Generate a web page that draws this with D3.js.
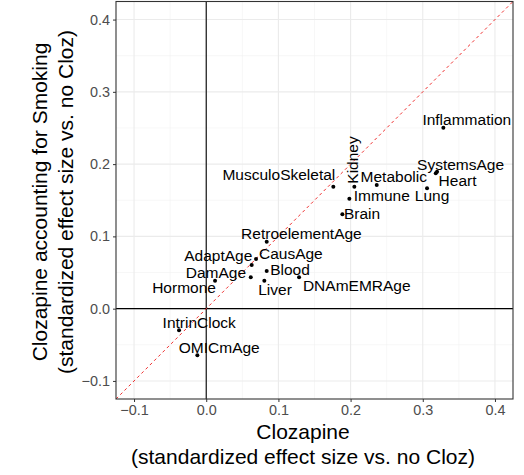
<!DOCTYPE html>
<html>
<head>
<meta charset="utf-8">
<script src="https://d3js.org/d3.v7.min.js"></script>
<style>
  body { margin: 0; background: white; }
  text { font-family: "Liberation Sans", Arial, sans-serif; }
  .tick text { fill: #4d4d4d; font-size: 14.4px; }
  .tick line { stroke: #333; }
  .domain { display: none; }
</style>
</head>
<body>
<svg id="chart" width="524" height="475"></svg>
<script>
// clock names and effect sizes
var clocks = ["Inflammation", "SystemsAge", "Heart", "Lung", "Metabolic", "Kidney", "Immune",
  "Brain", "MusculoSkeletal", "RetroelementAge", "CausAge", "AdaptAge", "Blood", "DamAge",
  "Liver", "DNAmEMRAge", "Hormone", "IntrinClock", "OMICmAge"];
var cloz = [0.3285, 0.3198, 0.3180, 0.3059, 0.2362, 0.2052, 0.1983,
  0.1886, 0.1761, 0.0838, 0.0690, 0.0630, 0.0838, 0.0617,
  0.0805, 0.1286, 0.0122, -0.0377, -0.0123];
var clozSmoke = [0.2504, 0.1896, 0.1874, 0.1666, 0.1712, 0.1688, 0.1522,
  0.1306, 0.1688, 0.0927, 0.0688, 0.0605, 0.0522, 0.0434,
  0.0387, 0.0434, 0.0387, -0.0299, -0.0645];
var axisLimits = [-0.1, 0.4];

// where the (repelled) labels sit relative to their point, in px
var nudge = {
  Inflammation: [23.4, -2.7], SystemsAge: [23.5, -1.7], Heart: [21.8, 12.7],
  Lung: [5, 12.7], Metabolic: [17, -3.3], Kidney: [-1.3, -26.7], Immune: [32.4, 2.3],
  Brain: [19.7, 5], MusculoSkeletal: [-54.5, -6.7], RetroelementAge: [34.7, -2.7],
  CausAge: [34.8, 0.3], AdaptAge: [-33.4, -4], Blood: [23.3, 4], DamAge: [-34.9, 0.4],
  Liver: [10.7, 14.3], DNAmEMRAge: [57.7, 13.4], Hormone: [-31, 12],
  IntrinClock: [20.2, -2.6], OMICmAge: [21.9, -2]
};

var data = clocks.map(function(c, i) { return {name: c, x: cloz[i], y: clozSmoke[i]}; });

var svg = d3.select("#chart");
var panel = {left: 116, right: 513, top: 1.5, bottom: 399};

var pad = (axisLimits[1] - axisLimits[0]) * 0.05;
var dom = [axisLimits[0] - pad, axisLimits[1] + pad];

var x = d3.scaleLinear().domain(dom).range([panel.left, panel.right]);
var y = d3.scaleLinear().domain(dom).range([panel.bottom, panel.top]);

var majors = d3.range(-0.1, 0.41, 0.1);
var minors = d3.range(-0.05, 0.4, 0.1);

var g = svg.append("g");

// minor grid
g.selectAll(".vminor").data(minors).enter().append("line")
  .attr("x1", d => x(d)).attr("x2", d => x(d))
  .attr("y1", panel.top).attr("y2", panel.bottom)
  .attr("stroke", "#f2f2f2").attr("stroke-width", 0.6);
g.selectAll(".hminor").data(minors).enter().append("line")
  .attr("y1", d => y(d)).attr("y2", d => y(d))
  .attr("x1", panel.left).attr("x2", panel.right)
  .attr("stroke", "#f2f2f2").attr("stroke-width", 0.6);
// major grid
g.selectAll(".vmajor").data(majors).enter().append("line")
  .attr("x1", d => x(d)).attr("x2", d => x(d))
  .attr("y1", panel.top).attr("y2", panel.bottom)
  .attr("stroke", "#ebebeb").attr("stroke-width", 1.1);
g.selectAll(".hmajor").data(majors).enter().append("line")
  .attr("y1", d => y(d)).attr("y2", d => y(d))
  .attr("x1", panel.left).attr("x2", panel.right)
  .attr("stroke", "#ebebeb").attr("stroke-width", 1.1);

// zero lines
g.append("line").attr("x1", x(0)).attr("x2", x(0))
  .attr("y1", panel.top).attr("y2", panel.bottom)
  .attr("stroke", "#000").attr("stroke-width", 1.1);
g.append("line").attr("y1", y(0)).attr("y2", y(0))
  .attr("x1", panel.left).attr("x2", panel.right)
  .attr("stroke", "#000").attr("stroke-width", 1.1);

// y = x
g.append("line")
  .attr("x1", x(dom[0])).attr("y1", y(dom[0]))
  .attr("x2", x(dom[1])).attr("y2", y(dom[1]))
  .attr("stroke", "#f03030").attr("stroke-width", 1)
  .attr("stroke-dasharray", "3,3");

// points
g.selectAll("circle").data(data).enter().append("circle")
  .attr("cx", d => x(d.x)).attr("cy", d => y(d.y))
  .attr("r", 2).attr("fill", "#000");

// labels
g.selectAll(".lab").data(data).enter().append("text")
  .attr("class", "lab")
  .attr("transform", function(d) {
    var n = nudge[d.name];
    var t = "translate(" + (x(d.x) + n[0]) + "," + (y(d.y) + n[1]) + ")";
    return d.name === "Kidney" ? t + " rotate(-90)" : t;
  })
  .attr("dy", d => d.name === "Kidney" ? "0.35em" : 0)
  .attr("text-anchor", "middle")
  .attr("font-size", "15.5px")
  .attr("fill", "#000")
  .text(d => d.name);

// panel border
svg.append("rect")
  .attr("x", panel.left).attr("y", panel.top)
  .attr("width", panel.right - panel.left).attr("height", panel.bottom - panel.top)
  .attr("fill", "none").attr("stroke", "#333").attr("stroke-width", 1.1);

// axes
svg.append("g").attr("transform", "translate(0," + panel.bottom + ")")
  .call(d3.axisBottom(x).tickValues(majors).tickFormat(d3.format(".1f")).tickSize(3).tickPadding(3));
svg.append("g").attr("transform", "translate(" + panel.left + ",0)")
  .call(d3.axisLeft(y).tickValues(majors).tickFormat(d3.format(".1f")).tickSize(3).tickPadding(3));

// axis titles
var xt = svg.append("text").attr("text-anchor", "middle").attr("font-size", "21px").attr("fill", "#000");
xt.append("tspan").attr("x", 303).attr("y", 439).text("Clozapine");
xt.append("tspan").attr("x", 303).attr("y", 464).text("(standardized effect size vs. no Cloz)");

var yt = svg.append("text").attr("text-anchor", "middle").attr("font-size", "21px").attr("fill", "#000")
  .attr("transform", "rotate(-90)");
yt.append("tspan").attr("x", -202).attr("y", 47).text("Clozapine accounting for Smoking");
yt.append("tspan").attr("x", -202).attr("y", 73).text("(standardized effect size vs. no Cloz)");
</script>
</body>
</html>
